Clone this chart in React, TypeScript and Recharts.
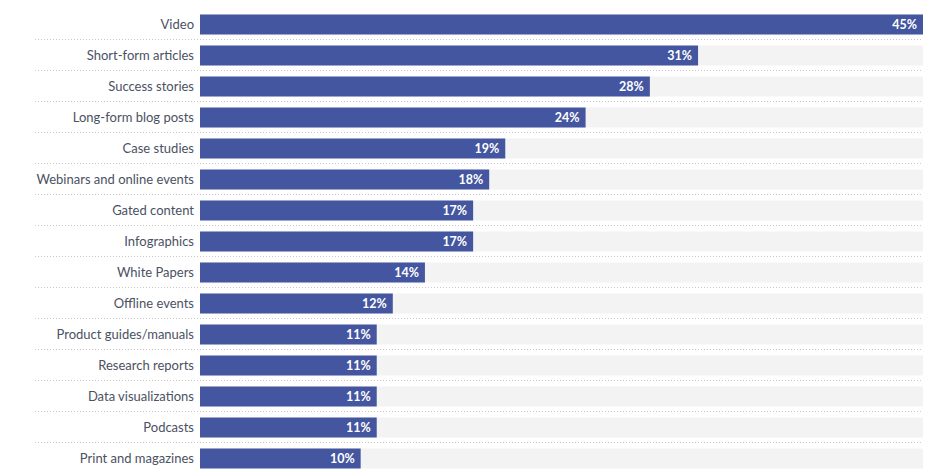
import { BarChart, Bar, XAxis, YAxis, LabelList } from "recharts";

const categories = [
  "Video",
  "Short-form articles",
  "Success stories",
  "Long-form blog posts",
  "Case studies",
  "Webinars and online events",
  "Gated content",
  "Infographics",
  "White Papers",
  "Offline events",
  "Product guides/manuals",
  "Research reports",
  "Data visualizations",
  "Podcasts",
  "Print and magazines",
];

const shares = [45, 31, 28, 24, 19, 18, 17, 17, 14, 12, 11, 11, 11, 11, 10];

const data = categories.map((name, i) => ({ name, value: shares[i] }));

const FONT = "Lato, 'Open Sans', sans-serif";
const ROW = 31;

// category label plus the dotted separator under its row
function CategoryTick(props: any) {
  const { x, y, payload, index } = props;
  const last = index === categories.length - 1;
  return (
    <g>
      <text
        x={x}
        y={y}
        dy={4.5}
        textAnchor="end"
        fontSize={13}
        fontFamily={FONT}
        fill="#4b5163"
      >
        {payload.value}
      </text>
      {!last && (
        <line
          x1={35}
          x2={923}
          y1={y + ROW / 2}
          y2={y + ROW / 2}
          stroke="#c9c9c9"
          strokeDasharray="1 2"
        />
      )}
    </g>
  );
}

export default function App() {
  return (
    <div
      style={{
        position: "absolute",
        left: 0,
        top: 0,
        width: 944,
        height: 472,
        overflow: "hidden",
        background: "#fff",
      }}
    >
      <BarChart
        width={944}
        height={480}
        data={data}
        layout="vertical"
        margin={{ top: 8.5, right: 21, bottom: 6.5, left: 0 }}
      >
        <XAxis type="number" domain={[0, 45]} hide />
        <YAxis
          type="category"
          dataKey="name"
          width={200}
          axisLine={false}
          tickLine={false}
          tickSize={0}
          tickMargin={6}
          interval={0}
          tick={<CategoryTick />}
        />
        <Bar
          dataKey="value"
          fill="#4456a0"
          barSize={20}
          background={{ fill: "#f3f3f3" }}
          isAnimationActive={false}
        >
          <LabelList
            dataKey="value"
            position="insideRight"
            offset={6}
            formatter={(v: any) => `${v}%`}
            fill="#ffffff"
            fontSize={12.5}
            fontWeight={700}
            fontFamily={FONT}
          />
        </Bar>
      </BarChart>
    </div>
  );
}
